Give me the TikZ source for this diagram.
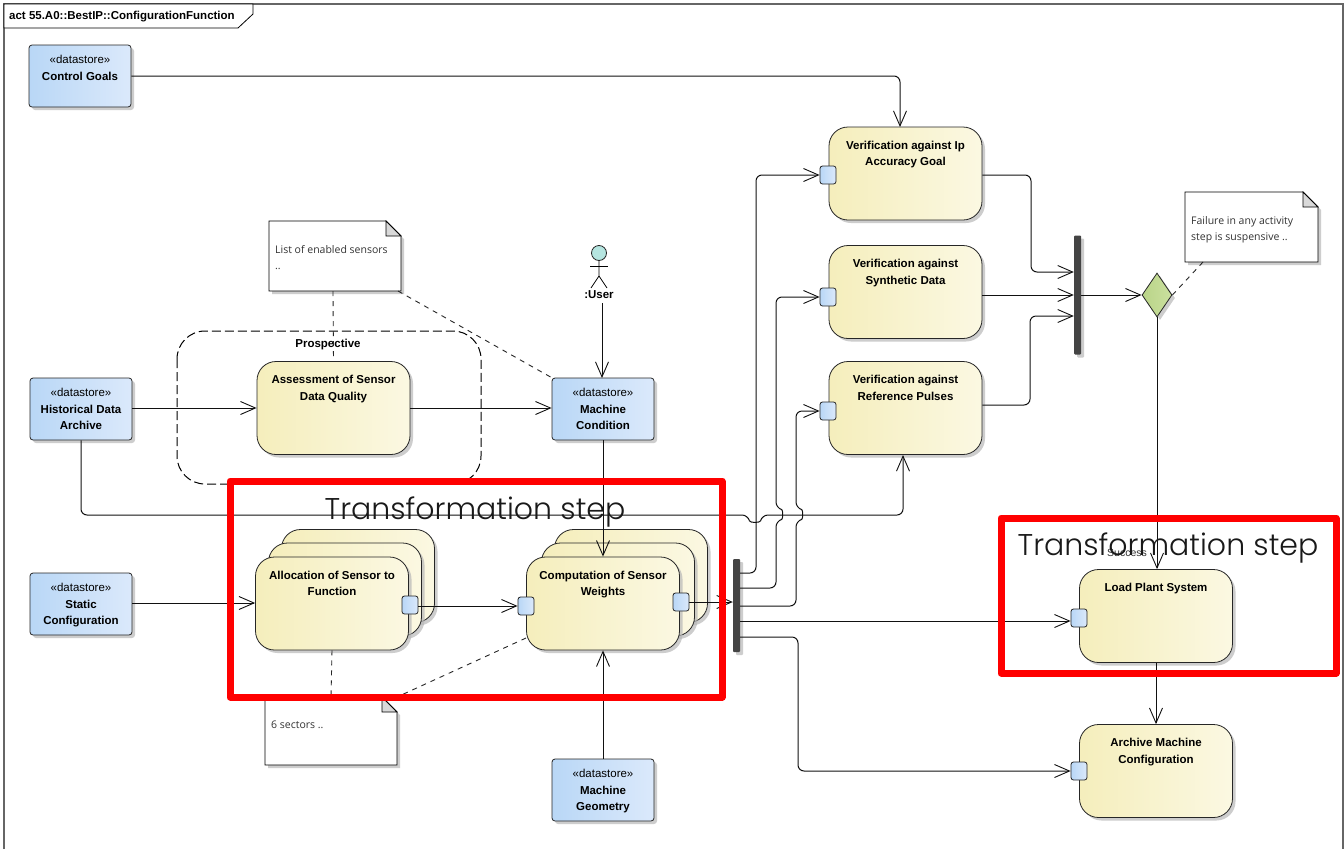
\documentclass[tikz,border=0pt]{standalone}
\usepackage{fontspec}
\setmainfont{Liberation Sans}
\newfontfamily\notefont{Open Sans}
\newfontfamily\bigfont{Poppins Light}
\usetikzlibrary{arrows.meta,shadows,shapes.geometric}
\definecolor{actL}{HTML}{F5EEBC}
\definecolor{actR}{HTML}{FBF8E2}
\definecolor{stoL}{HTML}{B9D7F6}
\definecolor{stoR}{HTML}{DBE9FB}
\definecolor{decL}{HTML}{B9D488}
\definecolor{decR}{HTML}{CBE09F}
\definecolor{forkc}{HTML}{444444}
\definecolor{wire}{HTML}{111111}
\definecolor{headc}{HTML}{B5E5E0}
\tikzset{
  x=1pt,y=-1pt,
  softshadow/.style={drop shadow={shadow xshift=3pt,shadow yshift=-3pt,fill=black!28,opacity=.7}},
  store/.style={draw=black!85,line width=.8pt,rounded corners=3pt,left color=stoL,right color=stoR,
    minimum width=102pt,minimum height=62pt,inner sep=0pt,softshadow,
    font=\fontsize{11.5}{16.5}\selectfont},
  action/.style={draw=black!85,line width=.8pt,rounded corners=19pt,left color=actL,right color=actR,
    minimum width=153pt,minimum height=93pt,inner sep=0pt,softshadow,
    font=\fontsize{11.5}{16.5}\selectfont\bfseries},
  pin/.style={draw=black!85,line width=.8pt,rounded corners=2.5pt,left color=stoL,right color=stoR,
    minimum width=16pt,minimum height=18pt,inner sep=0pt},
  forkbar/.style={fill=forkc,rounded corners=1pt,minimum width=7pt,inner sep=0pt,softshadow},
  flow/.style={draw=wire,line width=1pt,-{Straight Barb[length=15pt,width=13pt,line width=.9pt]}},
  elbow/.style={rounded corners=6pt},
  linkdash/.style={draw=black!85,line width=.9pt,dash pattern=on 5pt off 5pt},
  notebody/.style={draw=black,fill=white,line width=.9pt,softshadow},
  notetext/.style={anchor=north west,inner sep=0pt,align=left,text=black!80,
    font=\notefont\fontsize{10.5}{16}\selectfont},
  redbox/.style={draw=red,line width=7pt,line join=round},
  bigtext/.style={inner sep=0pt,font=\bigfont\fontsize{30}{36}\selectfont,text=black!90},
}
\newcommand{\acttxt}[1]{\parbox[c][65pt][t]{145pt}{\centering #1}}
\newcommand{\stotxt}[2]{\parbox[c][41pt][t]{100pt}{\centering #1\\\bfseries #2}}
\newcommand{\notebox}[6]{%
  \draw[notebody] (#2,#3) -- (#4-15,#3) -- (#4,#3+15) -- (#4,#5) -- (#2,#5) -- cycle;
  \draw[line width=.8pt,fill=black!15] (#4-15,#3) -- (#4-15,#3+15) -- (#4,#3+15) -- cycle;
  \coordinate (#1) at ({(#2+#4)/2},{(#3+#5)/2});
  \node[notetext] (#1t) at (#2+6,#3+#6) }
\begin{document}
\begin{tikzpicture}
\useasboundingbox (0,0) rectangle (1344,849);
\fill[white] (0,0) rectangle (1344,849);
% frame
\draw[black!60,line width=2pt] (4,849) -- (4,4) -- (1343,4) -- (1343,849);
\draw[line width=.8pt,fill=white] (4,4) -- (253,4) -- (253,14) -- (238,28) -- (4,28) -- cycle;
\node[anchor=west,inner sep=0pt,font=\fontsize{11.5}{14}\selectfont\bfseries] (title) at (9,17) {act 55.A0::BestIP::ConfigurationFunction};

% prospective region
\draw[line width=1pt,dash pattern=on 9pt off 4pt,rounded corners=28pt] (177,331) rectangle (481,484);
\node[font=\fontsize{11.5}{14}\selectfont\bfseries,inner sep=0pt] (prosp) at (328,345) {Prospective};

% notes
\notebox{n1}{269}{221}{401}{291}{24}{List of enabled sensors\\..};
\notebox{n2}{1185}{192}{1318}{262}{24}{Failure in any activity\\step is suspensive ..};
\notebox{n3}{265}{697}{397}{765}{24}{6 sectors ..};

% data stores
\node[store] (cg) at (80,76) {\stotxt{«datastore»}{Control Goals}};
\node[store] (hist) at (81,409) {\stotxt{«datastore»}{Historical Data\\Archive}};
\node[store] (stat) at (81,604) {\stotxt{«datastore»}{Static\\Configuration}};
\node[store] (mc) at (603,409) {\stotxt{«datastore»}{Machine\\Condition}};
\node[store] (mg) at (603,790) {\stotxt{«datastore»}{Machine\\Geometry}};

% actions
\node[action] (v1) at (905.5,173.5) {\acttxt{Verification against Ip\\Accuracy Goal}};
\node[action] (v2) at (905.5,292) {\acttxt{Verification against\\Synthetic Data}};
\node[action] (v3) at (905.5,408) {\acttxt{Verification against\\Reference Pulses}};
\node[action] (as) at (333.5,408) {\acttxt{Assessment of Sensor\\Data Quality}};
\node[action] (al3) at (358,576) {};
\node[action] (al2) at (345,589.5) {};
\node[action] (al) at (332,603.5) {\acttxt{Allocation of Sensor to\\Function}};
\node[action] (co3) at (631,576) {};
\node[action] (co2) at (618,589.5) {};
\node[action] (co) at (603,603.5) {\acttxt{Computation of Sensor\\Weights}};
\node[action] (lp) at (1156,616) {\acttxt{Load Plant System}};
\node[action] (ar) at (1156,771) {\acttxt{Archive Machine\\Configuration}};

% pins
\node[pin] (pv1) at (828,175) {};
\node[pin] (pv2) at (828,297) {};
\node[pin] (pv3) at (828,411) {};
\node[pin] (pal) at (410,605) {};
\node[pin] (pco) at (526,606) {};
\node[pin] (pout) at (681,602) {};
\node[pin] (plp) at (1079,618) {};
\node[pin] (par) at (1079,771) {};

% forks and decision
\node[forkbar,minimum height=119pt] (f1) at (1077.5,295) {};
\node[forkbar,minimum height=93pt] (f2) at (736.5,605.5) {};
\node[diamond,draw=black!85,line width=.8pt,left color=decL,right color=decR,
  minimum width=30pt,minimum height=44pt,inner sep=0pt,softshadow] (dec) at (1157,295) {};

% actor
\node[circle,draw=black!85,fill=headc,line width=.8pt,minimum size=15pt,inner sep=0pt] (head) at (599,253) {};
\coordinate (hip) at (599,276);
\draw[line width=.8pt] (head.south) -- (hip) -- (591,288);
\draw[line width=.8pt] (hip) -- (607,288);
\draw[line width=.8pt] (590,266) -- (608,266);
\node[font=\fontsize{11.5}{14}\selectfont\bfseries,inner sep=0pt] (user) at (599,295) {:User};

% connectors
\draw[flow,elbow] (cg.east |- 0,76) -- (900,76) -- (900,127);
\draw[flow] (hist.east |- as.west) -- (as.west);
\draw[flow] (as.east) -- (mc.west |- as.east);
\draw[flow] (602,303) -- (602,378);
\draw[flow] (mc.south) -- (mc.south |- co.north);
\draw[flow,elbow] (hist.south) -- (81,515) -- (748,515) .. controls (750,523) and (760,523) .. (762,515) -- (903,515) -- (903,455);
\draw[flow] (stat.east |- 0,603) -- (al.west |- 0,603);
\draw[flow] (pal.east |- pco) -- (pco.west);
\draw[flow] (mg.north) -- (mg.north |- co.south);
\draw[flow] (pout.east) -- (f2.west |- pout.east);

\coordinate (f2a) at (740,573);
\coordinate (f2b) at (740,588);
\coordinate (f2c) at (740,606);
\coordinate (f2d) at (740,621);
\coordinate (f2e) at (740,637);
\draw[flow,elbow] (f2a) -- (756,573) -- (756,175) -- (pv1.west);
\draw[flow,elbow] (f2b) -- (776,588) -- (776,521) .. controls (783,519) and (783,510) .. (776,508) -- (776,297) -- (pv2.west);
\draw[flow,elbow] (f2c) -- (796,606) -- (796,521) .. controls (803,519) and (803,510) .. (796,508) -- (796,411) -- (pv3.west);
\draw[flow] (f2d) -- (plp.west |- f2d);
\draw[flow,elbow] (f2e) -- (798,637) -- (798,771) -- (par.west);

\draw[flow,elbow] (v1.east |- 0,175) -- (1031,175) -- (1031,272) -- (f1.west |- 0,272);
\draw[flow] (v2.east |- 0,295) -- (f1.west |- 0,295);
\draw[flow,elbow] (v3.east |- 0,405) -- (1030,405) -- (1030,316) -- (f1.west |- 0,316);
\draw[flow] (f1.east |- dec.west) -- (dec.west);
\draw[flow] (dec.south) -- (dec.south |- lp.north);
\draw[flow] (lp.south) -- (ar.north);

% note links
\draw[linkdash] (333,291) -- (as.north);
\draw[linkdash] (398,291) -- (mc.north west);
\draw[linkdash] (dec.east) -- (1203,262);
\draw[linkdash] (al.south) -- (331,697);
\draw[linkdash] (526,638) -- (397,697);

\node[inner sep=0pt,font=\fontsize{10.5}{12}\selectfont,text=black!80] (succ) at (1127,553) {Success};

% red highlight boxes
\draw[redbox] (230,481) rectangle (722,697);
\draw[redbox] (1001,518) rectangle (1336,673);
\node[bigtext] (t1) at (475,512) {Transformation step};
\node[bigtext] (t2) at (1168,548) {Transformation step};
\end{tikzpicture}
\end{document}
